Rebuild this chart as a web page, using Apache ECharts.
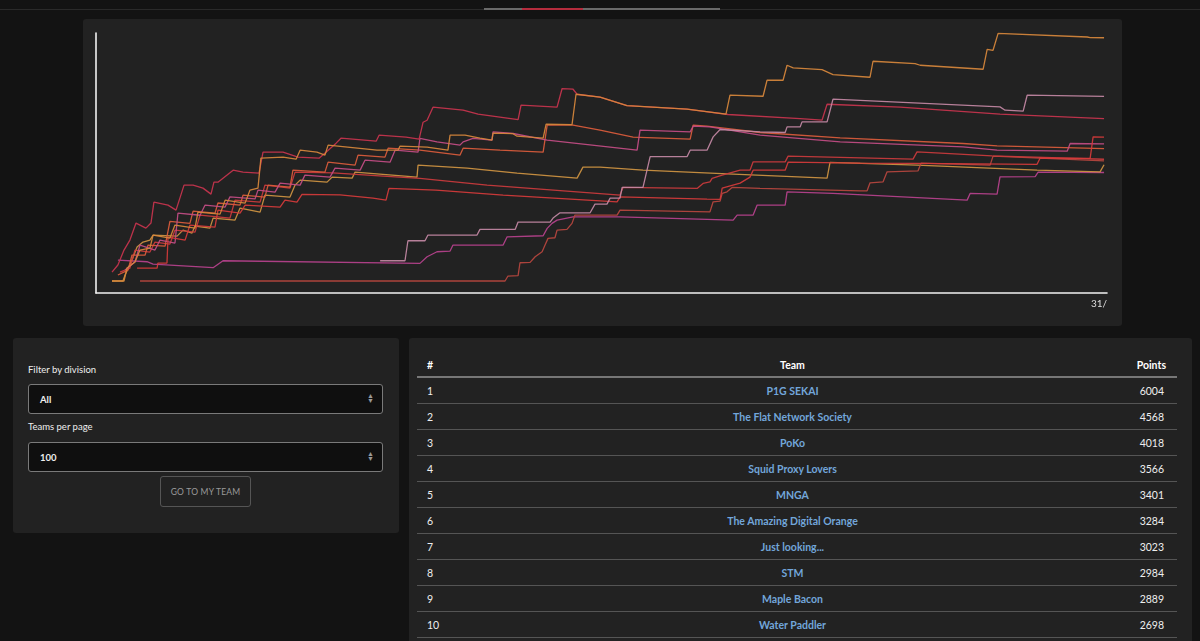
<!DOCTYPE html>
<html>
<head>
<meta charset="utf-8">
<script src="https://cdn.jsdelivr.net/npm/echarts@6/dist/echarts.min.js"></script>
<style>
  html,body{margin:0;padding:0;background:#131313;width:1200px;height:641px;overflow:hidden;font-family:"Lato","Open Sans",sans-serif;color:#eee;}
  .topline{position:absolute;left:0;top:9px;width:1200px;height:1px;background:#2a2a2a;}
  .tabline{position:absolute;left:484px;top:8px;width:236px;height:2px;background:#6a6a6a;}
  .tabred{position:absolute;left:522px;top:8px;width:61px;height:2px;background:#b52c3d;}
  .card{position:absolute;background:#222;border-radius:3px;}
  #chart{left:83px;top:19px;width:1039px;height:307px;}
  #filters{left:13px;top:338px;width:386px;height:195px;}
  #tablecard{left:409px;top:338px;width:783px;height:320px;}
  .lbl{position:absolute;left:15px;font-size:9.5px;color:#eee;}
  .sel{position:absolute;left:15px;width:353px;height:28px;background:#0f0f0f;border:1px solid #7a7a7a;border-radius:3px;}
  .sel span{position:absolute;left:11px;top:9px;font-size:9.5px;font-weight:700;color:#eee;}
  .sel i{position:absolute;right:8px;top:8px;font-style:normal;font-size:7px;line-height:5px;color:#999;}
  .btn{position:absolute;left:147px;top:138px;width:89px;height:29px;border:1px solid #555;border-radius:3px;color:#9a9a9a;font-size:8.5px;text-align:center;line-height:30px;letter-spacing:0.2px;}
  table{position:absolute;left:8px;top:16px;width:760px;border-collapse:collapse;font-size:10.5px;}
  th{color:#fff;font-weight:700;height:22px;border-bottom:2px solid #777;padding:0 3px;}
  td{height:25px;border-bottom:1px solid #555;padding:0 3px;color:#eee;}
  .c1{text-align:left;width:60px;padding-left:10px;}
  .c2{text-align:center;}
  .c3{text-align:right;width:66px;padding-right:11px;}
  td.c3{padding-right:13px;}
  td.c2{color:#72a6da;font-weight:700;}
</style>
</head>
<body>
<div class="topline"></div>
<div class="tabline"></div>
<div class="tabred"></div>

<div id="chart" class="card"></div>

<div id="filters" class="card">
  <div class="lbl" style="top:26px;">Filter by division</div>
  <div class="sel" style="top:46px;"><span>All</span><i>▲<br>▼</i></div>
  <div class="lbl" style="top:83px;">Teams per page</div>
  <div class="sel" style="top:104px;"><span>100</span><i>▲<br>▼</i></div>
  <div class="btn">GO TO MY TEAM</div>
</div>

<div id="tablecard" class="card">
  <table id="tbl"><thead><tr><th class="c1">#</th><th class="c2">Team</th><th class="c3">Points</th></tr></thead><tbody></tbody></table>
</div>

<script>
// ---- data ----
const teamNames = ["P1G SEKAI","The Flat Network Society","PoKo","Squid Proxy Lovers","MNGA","The Amazing Digital Orange","Just looking...","STM","Maple Bacon","Water Paddler"];
const teamPoints = [6004,4568,4018,3566,3401,3284,3023,2984,2889,2698];
const xTickLabel = "31/";

// score history: [hours since start, points]
const histP1G = [[0.76,37],[1.33,37],[1.47,355],[1.85,502],[2.09,796],[2.56,845],[2.71,1164],[3.51,1090],[3.75,1409],[4.70,1335],[4.84,1727],[5.89,1678],[6.13,2021],[7.08,1948],[7.31,2266],[7.69,2315],[7.83,3050],[8.88,3075],[9.50,3026],[9.69,3246],[10.49,3197],[10.87,3124],[11.02,3369],[13.34,3246],[14.34,3246],[14.43,3344],[15.72,3320],[16.71,3246],[16.81,3614],[17.52,3614],[18.23,3540],[18.80,3491],[18.85,3663],[19.80,3650],[19.99,3589],[21.23,3540],[21.37,3883],[22.60,3871],[22.79,4618],[23.93,4545],[25.21,4337],[28.06,4251],[29.91,4128],[30.10,4594],[31.67,4569],[31.86,4961],[32.62,4961],[32.81,5329],[33.10,5263],[34.47,5223],[34.99,5101],[36.75,5035],[36.89,5427],[38.89,5370],[39.13,5329],[42.12,5231],[42.31,5721],[42.59,5696],[42.83,6112],[47.06,6022],[47.20,6008],[47.86,6004]];
const histFlat = [[13.49,534],[14.67,534],[14.81,1024],[15.62,1024],[15.76,1164],[18.09,1164],[18.23,1303],[19.90,1303],[20.04,1482],[21.56,1482],[21.70,1580],[22.03,1710],[23.46,1710],[23.69,1923],[24.26,1923],[24.41,2070],[24.88,2070],[24.98,2332],[25.97,2332],[26.31,3087],[28.06,3087],[28.21,3246],[29.01,3246],[29.30,3572],[29.63,3753],[31.53,3695],[32.72,3680],[32.81,3817],[33.43,3817],[33.52,3940],[34.71,3940],[34.99,4496],[42.92,4307],[43.16,4226],[44.02,4202],[44.21,4594],[47.86,4568]];
const histPoKo = [[0.76,257],[1.04,429],[1.33,796],[1.61,1041],[1.90,1458],[2.37,1335],[2.61,1458],[2.75,1972],[3.42,1899],[3.80,1776],[4.18,2389],[4.61,2389],[5.08,2315],[5.46,2168],[5.60,2462],[5.79,2462],[6.51,2756],[6.98,2707],[7.74,2683],[7.93,3197],[8.88,3197],[9.59,3075],[10.59,3050],[10.92,3197],[11.40,3418],[11.63,3540],[13.30,3467],[13.44,3614],[14.72,3565],[15.34,3516],[15.53,3932],[15.72,3981],[16.00,4300],[17.43,4226],[18.14,4128],[20.04,3994],[20.18,4349],[21.89,4300],[22.13,4758],[22.65,4741],[22.84,4618],[23.93,4545],[25.21,4337],[28.06,4251],[30.01,4121],[33.43,4018],[34.47,3981],[34.71,4373],[38.18,4300],[42.92,4128],[47.86,4018]];
const histSquid = [[1.95,355],[2.90,355],[2.94,478],[3.37,478],[3.42,1115],[4.23,1041],[4.46,1409],[5.65,1360],[5.79,1776],[6.84,1703],[7.08,1899],[8.74,1850],[8.97,2021],[9.54,1972],[9.78,2161],[11.59,2150],[13.15,2070],[13.77,2021],[13.91,2308],[16.14,2266],[19.33,2144],[24.74,1980],[24.88,2102],[29.01,2046],[29.63,2040],[29.73,2315],[30.58,2438],[31.05,2585],[31.20,2756],[32.72,2756],[32.86,2952],[36.28,2928],[38.79,2920],[44.68,2900],[44.82,3050],[47.20,3043],[47.34,3572],[47.86,3566]];
const histMNGA = [[1.38,306],[1.85,502],[2.09,919],[2.80,796],[3.04,1041],[3.75,968],[3.89,1700],[4.94,1650],[5.18,1900],[6.13,1850],[6.36,2100],[7.55,2050],[7.69,2266],[8.50,2217],[8.74,2438],[9.69,2389],[9.92,2634],[11.11,2585],[11.35,2805],[12.54,2756],[12.77,3001],[13.96,2952],[14.20,3246],[15.29,3197],[15.38,3533],[16.19,3450],[17.28,3369],[17.43,3450],[17.90,3533],[18.80,3491],[18.85,3695],[19.80,3655],[21.42,3491],[25.69,3246],[25.83,3736],[28.21,3695],[28.35,3834],[29.15,3817],[31.53,3614],[35.33,3450],[41.17,3327],[42.78,3246],[46.11,3222],[46.25,3410],[47.86,3401]];
const histTADO = [[1.04,184],[1.52,306],[1.71,674],[2.33,674],[2.47,919],[3.28,894],[3.51,1500],[4.46,1450],[4.61,1750],[5.65,1700],[5.79,1950],[6.84,1900],[6.98,2144],[8.02,2095],[8.17,2389],[9.21,2340],[9.35,2756],[10.87,2707],[11.02,2952],[12.30,2879],[12.44,3124],[13.72,3075],[13.87,3295],[15.38,3246],[17.28,3124],[17.43,3295],[19.18,3246],[21.23,3197],[21.42,3859],[22.65,3859],[23.93,3736],[25.50,3565],[28.21,3516],[28.35,3859],[29.01,3834],[31.53,3680],[35.33,3548],[41.17,3410],[42.78,3352],[47.86,3284]];
const histJustLooking = [[1.14,257],[1.61,355],[1.85,796],[2.56,747],[2.80,992],[3.51,943],[3.75,1286],[4.70,1237],[4.94,1654],[6.36,1580],[6.60,2021],[7.79,1972],[8.02,2389],[9.21,2315],[9.45,2707],[11.25,2690],[13.63,2609],[15.38,2553],[18.57,2389],[24.88,2144],[25.02,2332],[28.54,2308],[28.82,2430],[29.15,2470],[29.25,2553],[29.73,2634],[30.58,2756],[31.05,2756],[31.20,2960],[32.72,2960],[32.86,3099],[38.79,3026],[38.98,3205],[42.54,3107],[47.86,3023]];
const histSTM = [[2.09,37],[19.42,37],[19.56,159],[20.04,167],[20.13,485],[20.61,495],[20.85,632],[21.18,755],[21.32,919],[21.46,1083],[21.79,1098],[21.89,1286],[22.36,1303],[22.60,1450],[22.74,1654],[24.74,1654],[24.88,1776],[29.15,1735],[29.30,1980],[29.63,1997],[29.73,2185],[29.96,2225],[30.20,2332],[31.53,2308],[36.28,2249],[36.61,2249],[36.75,2445],[37.37,2470],[37.56,2715],[39.03,2739],[39.17,2928],[42.45,2879],[42.59,3099],[47.86,2984]];
const histMaple = [[0.76,37],[1.28,37],[1.38,184],[1.71,551],[1.95,870],[2.23,992],[2.56,1041],[2.71,1164],[3.85,1139],[4.13,1286],[4.56,1213],[4.70,1384],[5.41,1335],[5.56,1580],[6.60,1531],[6.84,1825],[7.79,1727],[8.02,2144],[9.21,2095],[9.45,2389],[9.69,2511],[10.97,2462],[11.21,2585],[12.16,2560],[12.30,2707],[15.24,2585],[15.29,2879],[17.62,2805],[19.99,2683],[22.84,2560],[23.12,2830],[23.93,2830],[25.97,2756],[30.25,2658],[34.71,2560],[34.85,2945],[38.98,2879],[44.68,2756],[47.67,2715],[47.86,2889]];
const histWater = [[1.04,551],[2.42,510],[2.71,453],[5.56,363],[6.03,534],[15.38,470],[15.72,632],[16.19,755],[16.81,772],[16.95,919],[19.33,919],[19.52,1122],[21.23,1147],[21.42,1328],[21.65,1450],[21.89,1531],[22.65,1612],[24.88,1612],[30.25,1531],[30.44,1654],[31.20,1654],[31.39,1899],[32.72,1899],[32.81,2225],[34.99,2185],[41.36,2021],[41.50,2185],[42.78,2168],[42.92,2592],[44.59,2597],[44.73,2707],[47.86,2698]];

const histories = [histP1G,histFlat,histPoKo,histSquid,histMNGA,histTADO,histJustLooking,histSTM,histMaple,histWater];
const lineColors = ["#d8883c","#c489a5","#c9344e","#d63b3b","#c44d86","#dc5c3c","#cc3b3d","#b9473f","#d09542","#b8428e"];

// ---- table ----
const tb = document.querySelector('#tbl tbody');
teamNames.forEach((n,i)=>{
  const tr = document.createElement('tr');
  tr.innerHTML = '<td class="c1">'+(i+1)+'</td><td class="c2">'+n+'</td><td class="c3">'+teamPoints[i]+'</td>';
  tb.appendChild(tr);
});

// ---- chart ----
const chart = echarts.init(document.getElementById('chart'), null, {renderer:'canvas'});
chart.setOption({
  animation:false,
  backgroundColor:'transparent',
  grid:{left:13, top:14, width:1011, height:260},
  xAxis:{type:'value', min:0, max:48, interval:48,
    axisLine:{show:true, onZero:false, lineStyle:{color:'#f2f2f2', width:1.6}},
    axisTick:{show:false}, splitLine:{show:false},
    axisLabel:{show:true, showMinLabel:false, formatter:(v)=> v===48 ? xTickLabel : '', align:'right', color:'#dddddd', fontSize:10, margin:6, fontFamily:'Lato'}},
  yAxis:{type:'value', min:-257, max:6120,
    axisLine:{show:true, onZero:false, lineStyle:{color:'#f2f2f2', width:1.6}},
    axisTick:{show:false}, splitLine:{show:false}, axisLabel:{show:false}},
  series: histories.map((h,i)=>({
    name: teamNames[i], type:'line', data:h, showSymbol:false, symbol:'none', smooth:false,
    lineStyle:{color:lineColors[i], width:1.3, opacity:0.92}, z: 10-i
  }))
});
</script>
</body>
</html>
